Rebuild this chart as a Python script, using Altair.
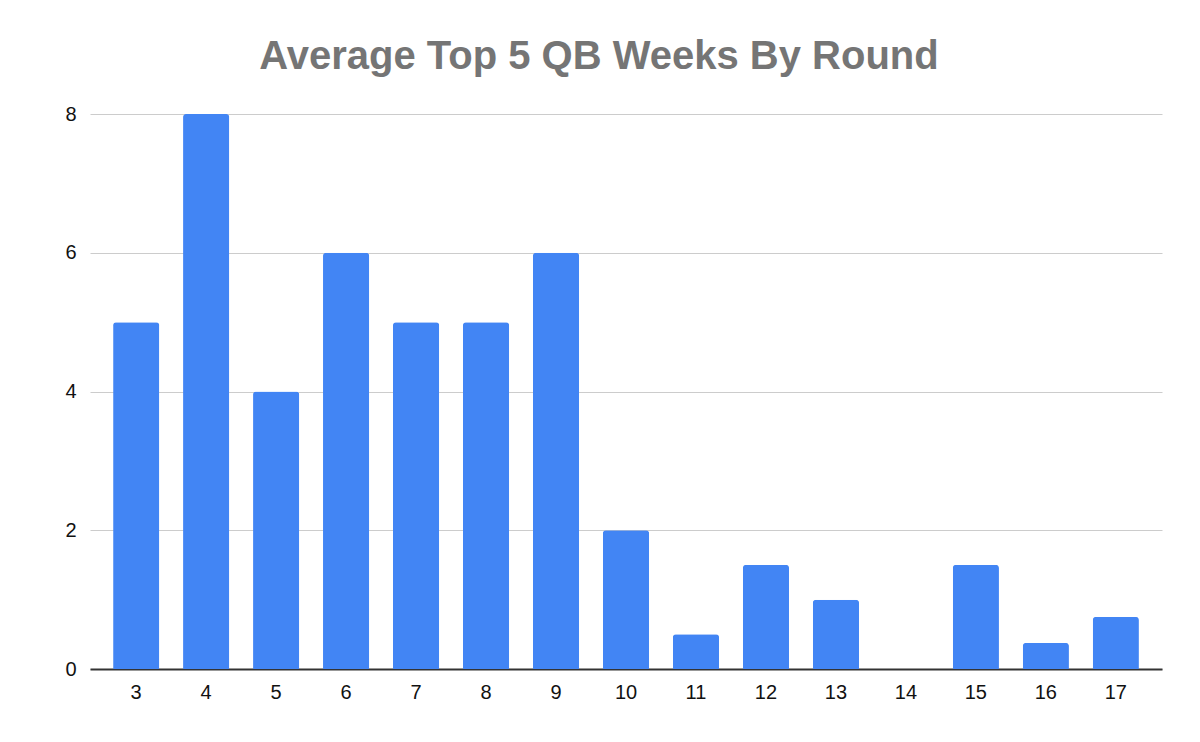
import altair as alt
import pandas as pd

rounds = [3, 4, 5, 6, 7, 8, 9, 10, 11, 12, 13, 14, 15, 16, 17]
avg_weeks = [5, 8, 4, 6, 5, 5, 6, 2, 0.5, 1.5, 1, 0, 1.5, 0.375, 0.75]
y_ticks = [0, 2, 4, 6, 8]

df = pd.DataFrame({"round": [str(r) for r in rounds], "weeks": avg_weeks})

chart = alt.Chart(df).mark_bar(
    color="#4285F4", cornerRadiusTopLeft=3, cornerRadiusTopRight=3
).encode(
    x=alt.X("round:N", sort=[str(r) for r in rounds], title=None,
            scale=alt.Scale(paddingInner=0.34, paddingOuter=0.33),
            axis=alt.Axis(labelAngle=0, labelFont="Liberation Sans", labelFontSize=20,
                          labelColor="#111", ticks=False, domainColor="#333",
                          domainWidth=2, labelPadding=13, grid=False)),
    y=alt.Y("weeks:Q", title=None, scale=alt.Scale(domain=[0, 8], nice=False),
            axis=alt.Axis(values=y_ticks, labelFont="Liberation Sans", labelFontSize=20,
                          labelColor="#111", ticks=False, domain=False,
                          gridColor="#cccccc", gridWidth=1, labelPadding=14)),
).properties(
    width=1072, height=555,
    title=alt.TitleParams("Average Top 5 QB Weeks By Round", font="Liberation Sans",
                          fontSize=40, fontWeight="bold", color="#757575",
                          anchor="middle", offset=27, dx=-27),
    autosize=alt.AutoSizeParams(type="none"),
    padding={"left": 82, "top": 106, "right": 30, "bottom": 60},
).configure_view(stroke=None)

chart.save("out.html", embed_options={"renderer": "svg", "actions": False})
